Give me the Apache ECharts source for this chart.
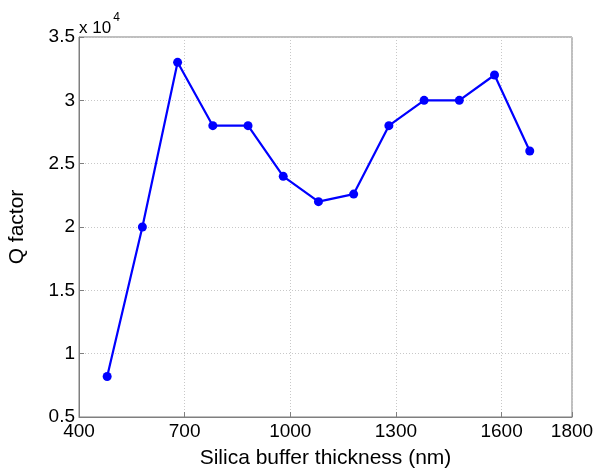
<!DOCTYPE html>
<html>
<head>
<meta charset="utf-8">
<script src="https://cdn.jsdelivr.net/npm/echarts@6/dist/echarts.min.js"></script>
<style>
html,body{margin:0;padding:0;background:#fff;}
#c{width:595px;height:471px;}
</style>
</head>
<body>
<div id="c"></div>
<script>
// Data
var thickness = [480, 580, 680, 780, 880, 980, 1080, 1180, 1280, 1380, 1480, 1580, 1680];
var qFactor = [8200, 20000, 33000, 28000, 28000, 24000, 22000, 22600, 28000, 30000, 30000, 32000, 26000];
var xTickLabels = ['400', '700', '1000', '1300', '1600', '1800'];
var yTickLabels = ['0.5', '1', '1.5', '2', '2.5', '3', '3.5'];

var chart = echarts.init(document.getElementById('c'), null, {renderer: 'canvas'});
var font = 'Liberation Sans, Arial, sans-serif';
var axisColor = '#7f7f7f';

var option = {
  animation: false,
  backgroundColor: '#fff',
  grid: {left: 79, right: 23, top: 37, bottom: 54, show: true, borderColor: axisColor, borderWidth: 1, backgroundColor: '#fff',
    containLabel: false, outerBoundsMode: 'none'},
  xAxis: {
    type: 'value', min: 400, max: 1800, interval: 300,
    name: 'Silica buffer thickness (nm)', nameLocation: 'middle', nameGap: 31,
    nameTextStyle: {fontFamily: font, fontSize: 21, color: '#000'},
    axisLine: {show: true, lineStyle: {color: axisColor}},
    axisTick: {show: true, inside: true, length: 5, lineStyle: {color: axisColor}},
    axisLabel: {fontFamily: font, fontSize: 19, color: '#000', margin: 5,
      formatter: function (v) { var i = xTickLabels.indexOf(String(v)); return i >= 0 ? xTickLabels[i] : ''; }},
    splitLine: {show: true, lineStyle: {color: '#c8c8c8', type: [1, 2], width: 1}}
  },
  yAxis: {
    type: 'value', min: 5000, max: 35000, interval: 5000,
    name: 'Q factor', nameLocation: 'middle', nameGap: 51, nameRotate: 90,
    nameTextStyle: {fontFamily: font, fontSize: 21, color: '#000'},
    axisLine: {show: true, lineStyle: {color: axisColor}},
    axisTick: {show: true, inside: true, length: 5, lineStyle: {color: axisColor}},
    axisLabel: {fontFamily: font, fontSize: 19, color: '#000', margin: 4,
      formatter: function (v) { var i = Math.round((v - 5000) / 5000); return yTickLabels[i] !== undefined ? yTickLabels[i] : ''; }},
    splitLine: {show: true, lineStyle: {color: '#c8c8c8', type: [1, 2], width: 1}}
  },
  graphic: [{
    type: 'text', left: 79, top: 12,
    style: {
      text: '{a|x 10}{b|4}',
      rich: {
        a: {fontFamily: font, fontSize: 17, fill: '#000', verticalAlign: 'bottom', padding: [8, 0, 0, 0]},
        b: {fontFamily: font, fontSize: 12, fill: '#000', verticalAlign: 'top', padding: [0, 0, 10, 2]}
      }
    }
  }],
  series: [{
    type: 'line',
    data: thickness.map(function (x, i) { return [x, qFactor[i]]; }),
    symbol: 'circle', symbolSize: 9,
    itemStyle: {color: '#0000ff'},
    lineStyle: {color: '#0000ff', width: 2.2}
  }]
};
chart.setOption(option);
</script>
</body>
</html>
